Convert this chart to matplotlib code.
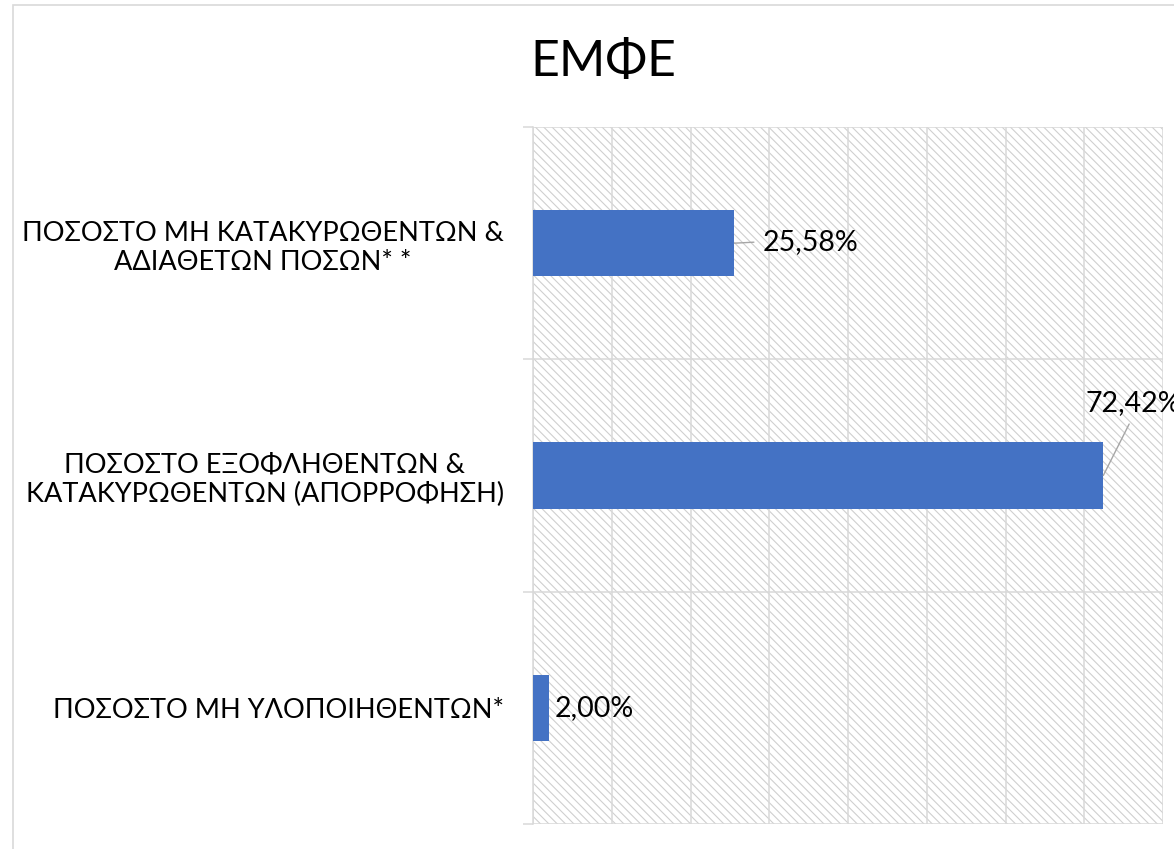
import matplotlib
matplotlib.use('Agg')
import matplotlib.pyplot as plt
from matplotlib.patches import Rectangle

# chart data
title = 'ΕΜΦΕ'
categories = ['ΠΟΣΟΣΤΟ ΜΗ ΚΑΤΑΚΥΡΩΘΕΝΤΩΝ &\nΑΔΙΑΘΕΤΩΝ ΠΟΣΩΝ* *',
              'ΠΟΣΟΣΤΟ ΕΞΟΦΛΗΘΕΝΤΩΝ &\nΚΑΤΑΚΥΡΩΘΕΝΤΩΝ (ΑΠΟΡΡΟΦΗΣΗ)',
              'ΠΟΣΟΣΤΟ ΜΗ ΥΛΟΠΟΙΗΘΕΝΤΩΝ*']
values = [0.2558, 0.7242, 0.0200]

plt.rcParams['font.family'] = ['Lato', 'Open Sans', 'DejaVu Sans']
plt.rcParams['hatch.linewidth'] = 0.8

W, H = 1174, 849
fig = plt.figure(figsize=(W / 100, H / 100), dpi=100)

# outer chart border (runs off the right/bottom edge like the screenshot)
fig.patches.append(Rectangle((13 / W, -0.05), 1.1, 1 - 5 / H + 0.05,
                             transform=fig.transFigure, fill=False,
                             edgecolor='#d9d9d9', linewidth=1.2))

ax = fig.add_axes([533 / W, 1 - 824 / H, (1163 - 533) / W, (824 - 127) / H])

# hatched plot area background
ax.add_patch(Rectangle((0, 0), 1, 1, transform=ax.transAxes, fill=False,
                       hatch='\\\\\\\\', edgecolor='#cfcfcf', linewidth=0,
                       zorder=0))

pos = list(range(len(categories)))
ax.barh(pos, values, height=0.285, color='#4472C4', zorder=3)

ax.set_xlim(0, 0.8)
ax.set_ylim(len(categories) - 0.5, -0.5)

# grid
ax.set_xticks([i / 10 for i in range(9)])
ax.xaxis.grid(True, color='#d9d9d9', linewidth=1.1, zorder=1)
ax.tick_params(axis='x', length=0, labelbottom=False)

ax.set_yticks(pos)
ax.set_yticklabels(categories, fontsize=19.5, multialignment='center')
ax.set_yticks([p - 0.5 for p in pos] + [pos[-1] + 0.5], minor=True)
ax.yaxis.grid(True, which='minor', color='#d9d9d9', linewidth=1.1, zorder=1)
ax.tick_params(axis='y', which='major', length=0, pad=21)
ax.tick_params(axis='y', which='minor', length=7.5, color='#d9d9d9', width=1.1)

for s in ['top', 'right', 'bottom']:
    ax.spines[s].set_visible(False)
ax.spines['left'].set_color('#d9d9d9')
ax.spines['left'].set_linewidth(1.1)
ax.set_axisbelow(True)

# data labels
label_style = [
    dict(xytext=(20, 1), line=True, relpos=(0, 0.5)),
    dict(xytext=(-13, 52), line=True, relpos=(0.5, 0)),
    dict(xytext=(4, 0), line=False, relpos=(0, 0.5)),
]
for p, v, st in zip(pos, values, label_style):
    txt = f'{v * 100:.2f}%'.replace('.', ',')
    kw = dict(xy=(v, p), xytext=st['xytext'], textcoords='offset points',
              ha='left', va='center', fontsize=20.5, color='black',
              annotation_clip=False, zorder=5)
    if st['line']:
        kw['arrowprops'] = dict(arrowstyle='-', color='#a6a6a6', lw=1.0,
                                shrinkA=4, shrinkB=0, relpos=st['relpos'])
    ax.annotate(txt, **kw)

fig.text(603 / W, 1 - 62 / H, title, ha='center', va='center', fontsize=36)

fig.savefig('out.png', dpi=100)
